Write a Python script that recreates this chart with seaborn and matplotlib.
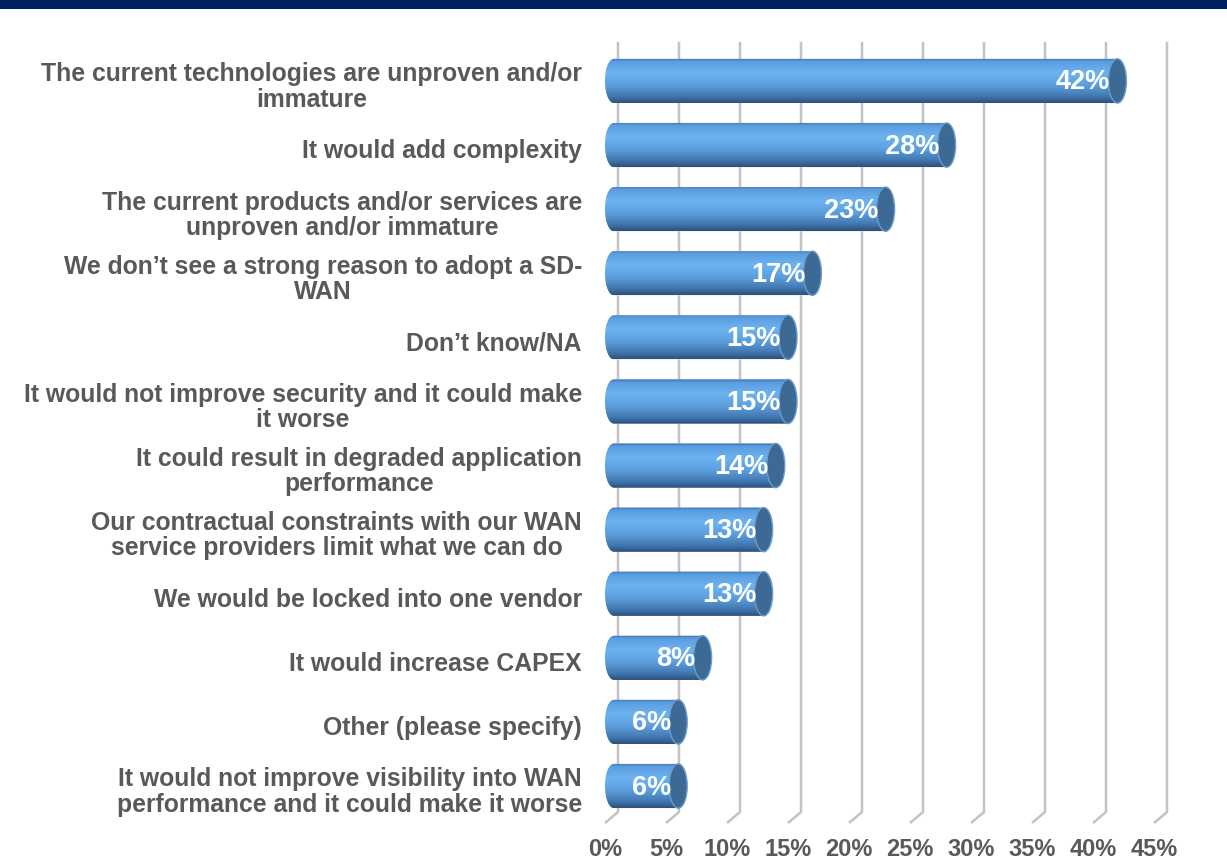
import numpy as np
import pandas as pd
import matplotlib
matplotlib.use("Agg")
import matplotlib.pyplot as plt
import matplotlib.transforms as mtransforms
import seaborn as sns
from matplotlib.path import Path
from matplotlib.patches import Ellipse, Rectangle, PathPatch
from matplotlib.colors import LinearSegmentedColormap

# ---- data -------------------------------------------------------------
reasons = [
    "The current technologies are unproven and/or\nimmature",
    "It would add complexity",
    "The current products and/or services are\nunproven and/or immature",
    "We don\u2019t see a strong reason to adopt a SD-\nWAN",
    "Don\u2019t know/NA",
    "It would not improve security and it could make\nit worse",
    "It could result in degraded application\nperformance",
    "Our contractual constraints with our WAN\nservice providers limit what we can do",
    "We would be locked into one vendor",
    "It would increase CAPEX",
    "Other (please specify)",
    "It would not improve visibility into WAN\nperformance and it could make it worse",
]
shares = [42, 28, 23, 17, 15, 15, 14, 13, 13, 8, 6, 6]
tick_values = [0, 5, 10, 15, 20, 25, 30, 35, 40, 45]
tick_labels = [f"{v}%" for v in tick_values]

# ---- style ------------------------------------------------------------
sns.set_theme(style="white")
plt.rcParams["font.family"] = ["Liberation Sans", "DejaVu Sans"]
TEXT_GREY = "#595959"
GRID_GREY = "#c3c3c3"

W, H = 1227, 861
fig = plt.figure(figsize=(W / 100, H / 100), dpi=100)
fig.patch.set_facecolor("white")

# navy banner along the top edge
fig.patches.append(Rectangle((0, 1 - 9 / H), 1, 9 / H, transform=fig.transFigure,
                             facecolor="#002060", edgecolor="none", zorder=0))

ax = fig.add_axes([605 / W, 1 - 823 / H, 549 / W, 781 / H])
df = pd.DataFrame({"reason": reasons, "share": shares})
sns.barplot(data=df, x="share", y="reason", orient="h", color="#5a9ee0",
            width=0.69, ax=ax, zorder=3, errorbar=None)

XMIN, XMAX = 0, 45
YTOP, YBOT = -0.608, 11.577
px_x = (XMAX - XMIN) / 549.0          # data units per pixel, x
px_y = (YBOT - YTOP) / 781.0          # data units per pixel, y

# back-wall gridlines with a short floor segment bending to the front
depth_x = 13 * px_x
bend_y = YBOT - 11 * px_y
for v in tick_values:
    ax.plot([v + depth_x, v + depth_x, v], [YTOP, bend_y, YBOT],
            color=GRID_GREY, lw=1.8, zorder=1, clip_on=False,
            solid_capstyle="butt")

# cylinder shading for every bar
cmap = LinearSegmentedColormap.from_list("cyl", [
    (0.00, "#3b6ea8"), (0.07, "#5b9de0"), (0.33, "#6cb3f1"),
    (0.60, "#5d9fde"), (0.85, "#4277b1"), (1.00, "#2c4f77")])
grad = np.linspace(0, 1, 256).reshape(-1, 1)
cap_a = 9 * px_x                      # half width of the end ellipses

for patch, val in zip(ax.patches, shares):
    y0 = patch.get_y()
    h = patch.get_height()
    w = patch.get_width()
    yc = y0 + h / 2
    th = np.linspace(np.pi / 2, 3 * np.pi / 2, 40)
    ex = cap_a + cap_a * np.cos(th)
    ey = yc - (h / 2) * np.sin(th)
    verts = [(w, y0)] + list(zip(ex, ey)) + [(w, y0 + h), (w, y0)]
    codes = [Path.MOVETO] + [Path.LINETO] * (len(verts) - 2) + [Path.CLOSEPOLY]
    body = PathPatch(Path(verts, codes), transform=ax.transData,
                     facecolor="none", edgecolor="none")
    ax.add_patch(body)
    patch.set_clip_path(body)
    img = ax.imshow(grad, extent=(0, w, y0 + h, y0), origin="upper",
                    aspect="auto", cmap=cmap, zorder=4,
                    interpolation="bicubic")
    img.set_clip_path(body)
    ax.add_patch(Ellipse((w, yc), 2 * cap_a, h, facecolor="#3d6a94",
                         edgecolor="#6a9ccc", lw=1.0, zorder=5))
    ax.text(w - cap_a + 0.15, yc + 1.5 * px_y, f"{val}%", ha="right", va="center",
            color="white", fontsize=19.5, fontweight="bold", zorder=6)

ax.set_xlim(XMIN, XMAX)
ax.set_ylim(YBOT, YTOP)
ax.set_xticks(tick_values, labels=tick_labels)
ax.tick_params(axis="x", length=0, pad=11, labelsize=17, labelcolor=TEXT_GREY)
for lbl in ax.get_xticklabels():
    lbl.set_fontweight("bold")

# category labels, right-aligned left of the bars, lines centred
ax.set_yticks(range(len(reasons)), labels=[""] * len(reasons))
ax.tick_params(axis="y", length=0)
ax.set_xlabel("")
ax.set_ylabel("")
lab_tr = mtransforms.blended_transform_factory(ax.transAxes, ax.transData) + \
    mtransforms.ScaledTranslation(-23 / 100, -6 / 100, fig.dpi_scale_trans)
for i, r in enumerate(reasons):
    ax.text(0, i, r, transform=lab_tr, ha="right", va="center",
            multialignment="center", fontsize=17.8, fontweight="bold",
            color=TEXT_GREY, linespacing=1.06)

for s in ax.spines.values():
    s.set_visible(False)
ax.set_facecolor("none")

fig.savefig("out.png", dpi=100, facecolor="white")
